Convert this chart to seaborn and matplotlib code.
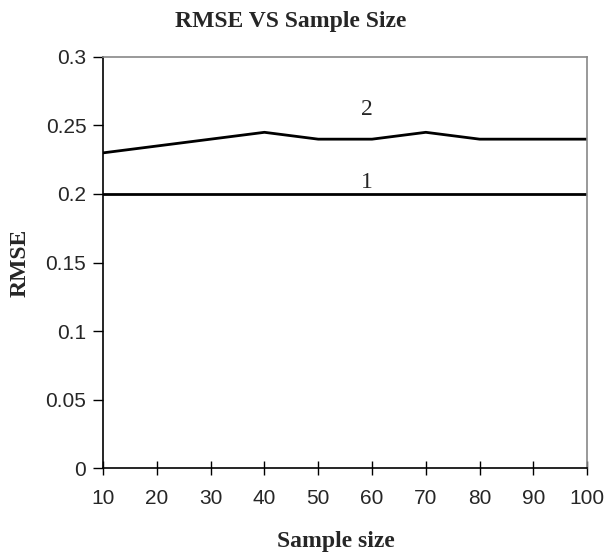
import matplotlib
matplotlib.use("Agg")
import matplotlib.pyplot as plt
import seaborn as sns
import pandas as pd

sample_size = [10, 20, 30, 40, 50, 60, 70, 80, 90, 100]
rmse_1 = [0.2, 0.2, 0.2, 0.2, 0.2, 0.2, 0.2, 0.2, 0.2, 0.2]
rmse_2 = [0.23, 0.235, 0.24, 0.245, 0.24, 0.24, 0.245, 0.24, 0.24, 0.24]
y_ticks = [0, 0.05, 0.1, 0.15, 0.2, 0.25, 0.3]
y_tick_labels = ["0", "0.05", "0.1", "0.15", "0.2", "0.25", "0.3"]

df = pd.DataFrame({"n": sample_size * 2,
                   "rmse": rmse_1 + rmse_2,
                   "curve": ["1"] * 10 + ["2"] * 10})

sns.set_style("white")
plt.rcParams["font.family"] = ["Liberation Sans", "DejaVu Sans"]

fig = plt.figure(figsize=(6.06, 5.58), dpi=100)
ax = fig.add_axes([0.170, 0.161, 0.799, 0.737])

sns.lineplot(data=df, x="n", y="rmse", units="curve", estimator=None,
             color="black", linewidth=2, ax=ax, legend=False)

ax.text(59, 0.2615, "2", ha="center", va="center", fontsize=17, family="Liberation Serif")
ax.text(59, 0.2085, "1", ha="center", va="center", fontsize=17, family="Liberation Serif")

ax.set_xlim(10, 100)
ax.set_ylim(0, 0.3)
ax.set_xticks(sample_size)
ax.set_yticks(y_ticks)
ax.set_yticklabels(y_tick_labels)
ax.tick_params(axis="x", direction="inout", length=10, width=1, color="black",
               labelsize=15, pad=10, bottom=True)
ax.tick_params(axis="y", direction="out", length=7, width=1, color="black",
               labelsize=15, pad=5, left=True)

for side in ["left", "bottom"]:
    ax.spines[side].set_color("black")
    ax.spines[side].set_linewidth(1.2)
for side in ["top", "right"]:
    ax.spines[side].set_color("#888888")
    ax.spines[side].set_linewidth(1.2)

fig.text(291 / 606, 1 - 22 / 558, "RMSE VS Sample Size", ha="center", va="center",
         fontsize=17, fontweight="bold", family="Liberation Serif")
ax.set_xlabel("Sample size", fontsize=17, fontweight="bold",
              family="Liberation Serif", va="center")
ax.xaxis.set_label_coords(0.481, -0.178)
ax.set_ylabel("RMSE", fontsize=17, fontweight="bold",
              family="Liberation Serif", va="center")
ax.yaxis.set_label_coords(-0.1715, 0.5)

fig.savefig("out.png", dpi=100)
